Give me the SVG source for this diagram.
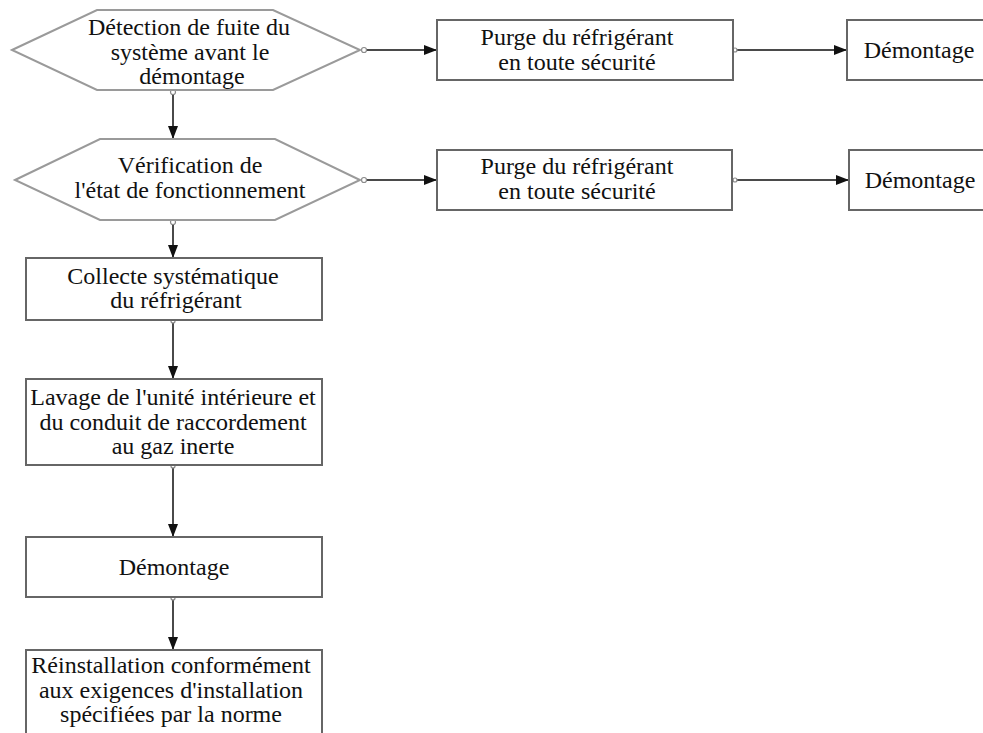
<svg xmlns="http://www.w3.org/2000/svg" width="983" height="733" viewBox="0 0 983 733">
<style>
.box{fill:#fff;stroke:#666;stroke-width:2}
.hex{fill:#fff;stroke:#9a9a9a;stroke-width:2}
.t{font-family:"Liberation Serif","Times New Roman",serif;font-size:24px;fill:#111;text-anchor:middle}
.c{stroke:#4a4a4a;stroke-width:2;fill:none;marker-end:url(#ah)}
.dot{fill:#fff;stroke:#8a8a8a;stroke-width:1.2}
</style>
<defs>
<marker id="ah" markerUnits="userSpaceOnUse" markerWidth="14" markerHeight="12" refX="13" refY="5" orient="auto">
<path d="M0,0 L13,5 L0,10 z" fill="#111"/>
</marker>
</defs>
<rect width="983" height="733" fill="#fff"/>
<g id="connectors">
<line class="c" x1="364" y1="50" x2="437" y2="50"/>
<line class="c" x1="735" y1="50" x2="847" y2="50"/>
<line class="c" x1="364" y1="180" x2="437" y2="180"/>
<line class="c" x1="735" y1="180" x2="849" y2="180"/>
<line class="c" x1="173" y1="93" x2="173" y2="139"/>
<line class="c" x1="173" y1="223" x2="173" y2="258"/>
<line class="c" x1="173" y1="320" x2="173" y2="379"/>
<line class="c" x1="173" y1="466" x2="173" y2="537"/>
<line class="c" x1="173" y1="598" x2="173" y2="650"/>
<circle class="dot" cx="364" cy="50" r="2.5"/>
<circle class="dot" cx="364" cy="180" r="2.5"/>
<circle class="dot" cx="735" cy="50" r="2"/>
<circle class="dot" cx="735" cy="180" r="2"/>
<circle class="dot" cx="173" cy="92" r="2.5"/>
<circle class="dot" cx="173" cy="222" r="2.5"/>
<circle class="dot" cx="173" cy="321" r="2"/>
<circle class="dot" cx="173" cy="466" r="2"/>
<circle class="dot" cx="173" cy="598" r="2"/>
</g>
<g id="hex1">
<polygon class="hex" points="12,50 97,10 273,10 360,50 273,90 97,90"/>
<text class="t" x="189" y="35">Détection de fuite du</text>
<text class="t" x="190" y="60">système avant le</text>
<text class="t" x="192" y="84">démontage</text>
</g>
<g id="purge1">
<rect class="box" x="437" y="20" width="296" height="60"/>
<text class="t" x="577" y="45">Purge du réfrigérant</text>
<text class="t" x="577" y="70">en toute sécurité</text>
</g>
<g id="dem1">
<rect class="box" x="847" y="20" width="150" height="60"/>
<text class="t" x="919" y="58">Démontage</text>
</g>
<g id="hex2">
<polygon class="hex" points="15,180 100,139 275,139 360,180 275,220 100,220"/>
<text class="t" x="190" y="173">Vérification de</text>
<text class="t" x="190" y="198">l'état de fonctionnement</text>
</g>
<g id="purge2">
<rect class="box" x="437" y="150" width="295" height="60"/>
<text class="t" x="577" y="174">Purge du réfrigérant</text>
<text class="t" x="577" y="199">en toute sécurité</text>
</g>
<g id="dem2">
<rect class="box" x="849" y="150" width="150" height="60"/>
<text class="t" x="920" y="188">Démontage</text>
</g>
<g id="collecte">
<rect class="box" x="26" y="258" width="296" height="62"/>
<text class="t" x="173" y="284">Collecte systématique</text>
<text class="t" x="176" y="308">du réfrigérant</text>
</g>
<g id="lavage">
<rect class="box" x="26" y="379" width="296" height="86"/>
<text class="t" x="173" y="405">Lavage de l'unité intérieure et</text>
<text class="t" x="173" y="430">du conduit de raccordement</text>
<text class="t" x="173" y="454">au gaz inerte</text>
</g>
<g id="dem3">
<rect class="box" x="26" y="537" width="296" height="60"/>
<text class="t" x="174" y="575">Démontage</text>
</g>
<g id="reinstallation">
<rect class="box" x="26" y="650" width="296" height="100"/>
<text class="t" x="171" y="673">Réinstallation conformément</text>
<text class="t" x="171" y="698">aux exigences d'installation</text>
<text class="t" x="171" y="722">spécifiées par la norme</text>
</g>
</svg>
